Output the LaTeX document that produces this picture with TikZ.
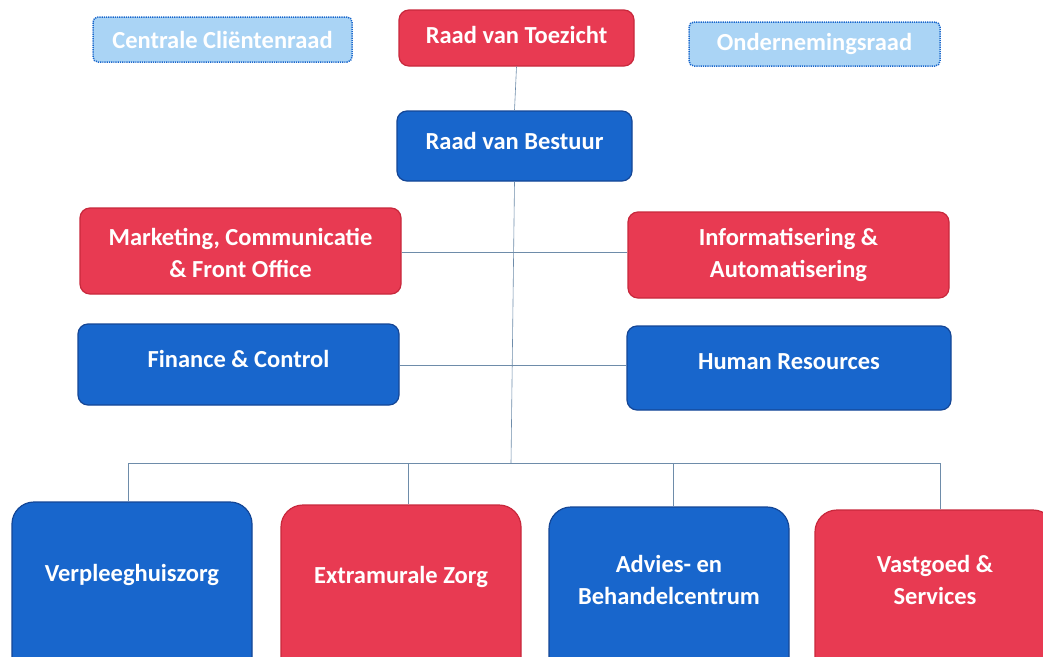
\documentclass[tikz,border=0pt]{standalone}
\usepackage{fontspec}
\setmainfont{Carlito}
\definecolor{orgred}{RGB}{232,58,82}
\definecolor{orgredd}{RGB}{200,40,60}
\definecolor{orgblue}{RGB}{24,102,204}
\definecolor{orgblued}{RGB}{20,70,150}
\definecolor{lightb}{RGB}{170,212,245}
\definecolor{lined}{RGB}{110,140,170}
\tikzset{
  box/.style={rounded corners=10pt, text=white, font=\bfseries\fontsize{24.5}{32}\selectfont, align=center, inner sep=0pt, line width=1.2pt},
  lbl/.style={text=white, font=\bfseries\fontsize{24.5}{32}\selectfont, align=center, inner sep=0pt},
  redbox/.style={box, fill=orgred, draw=orgredd},
  bluebox/.style={box, fill=orgblue, draw=orgblued},
  lbox/.style={box, rounded corners=5pt, fill=lightb, draw=orgblue, densely dotted, line width=1.5pt},
  big/.style={rounded corners=22pt},
  conn/.style={draw=lined, line width=0.6pt}
}
\begin{document}
\begin{tikzpicture}[x=1pt,y=-1pt]
\useasboundingbox (0,0) rectangle (1043,656);
\clip (0,0) rectangle (1043,656);
\fill[white] (0,0) rectangle (1043,656);
% top row
\node[lbox, minimum width=259pt, minimum height=45pt] (ccr) at (222.5,39.5) {Centrale Cliëntenraad};
\node[redbox, minimum width=235pt, minimum height=56pt] (rvt) at (516.5,38) {};
\node[lbl] (rvtl) at (516.5,35) {Raad van Toezicht};
\node[lbox, minimum width=251pt, minimum height=44pt] (or) at (814.5,44) {Ondernemingsraad};
% board
\node[bluebox, minimum width=235pt, minimum height=70pt] (rvb) at (514.5,146) {};
\node[lbl] (rvbl) at (514.5,141) {Raad van Bestuur};
% staff
\node[redbox, minimum width=321pt, minimum height=86pt] (mcf) at (240.5,251) {};
\node[lbl] (mcfl) at (240.5,253) {Marketing, Communicatie\\\& Front Office};
\node[redbox, minimum width=321pt, minimum height=86pt] (ia) at (788.5,255) {};
\node[lbl] (ial) at (788.5,255) {Informatisering \&\\Automatisering};
\node[bluebox, minimum width=321pt, minimum height=81pt] (fc) at (238.5,364.5) {};
\node[lbl] (fcl) at (238.5,359) {Finance \& Control};
\node[bluebox, minimum width=324pt, minimum height=84pt] (hr) at (789,368) {};
\node[lbl] (hrl) at (789,362) {Human Resources};
% divisions
\node[bluebox, big, minimum width=240pt, minimum height=200pt] (vpz) at (132,602) {};
\node[redbox, big, minimum width=240pt, minimum height=200pt] (exz) at (401,605) {};
\node[bluebox, big, minimum width=240pt, minimum height=200pt] (abc) at (669,607) {};
\node[redbox, big, minimum width=240pt, minimum height=200pt] (vgs) at (935,610) {};
\node[lbl] (vpzl) at (132,575) {Verpleeghuiszorg};
\node[lbl] (exzl) at (401,577) {Extramurale Zorg};
\node[lbl] (abcl) at (669,580) {Advies- en\\Behandelcentrum};
\node[lbl] (vgsl) at (935,580) {Vastgoed \&\\Services};
% connectors
\coordinate (bus) at (511,463);
\coordinate (j1) at (513,252);
\coordinate (j2) at (512,365);
\draw[conn] (rvt.south) -- (rvb.north);
\draw[conn] (rvb.south) -- (bus);
\draw[conn] (mcf.east |- j1) -- (ia.west |- j1);
\draw[conn] (fc.east |- j2) -- (hr.west |- j2);
\coordinate (bl) at (128,463);
\coordinate (br) at (940,463);
\coordinate (bm1) at (408,463);
\coordinate (bm2) at (673,463);
\draw[conn] (bl) -- (br);
\draw[conn] (bl) -- (bl |- vpz.north);
\draw[conn] (bm1) -- (bm1 |- exz.north);
\draw[conn] (bm2) -- (bm2 |- abc.north);
\draw[conn] (br) -- (br |- vgs.north);
\end{tikzpicture}
\end{document}
